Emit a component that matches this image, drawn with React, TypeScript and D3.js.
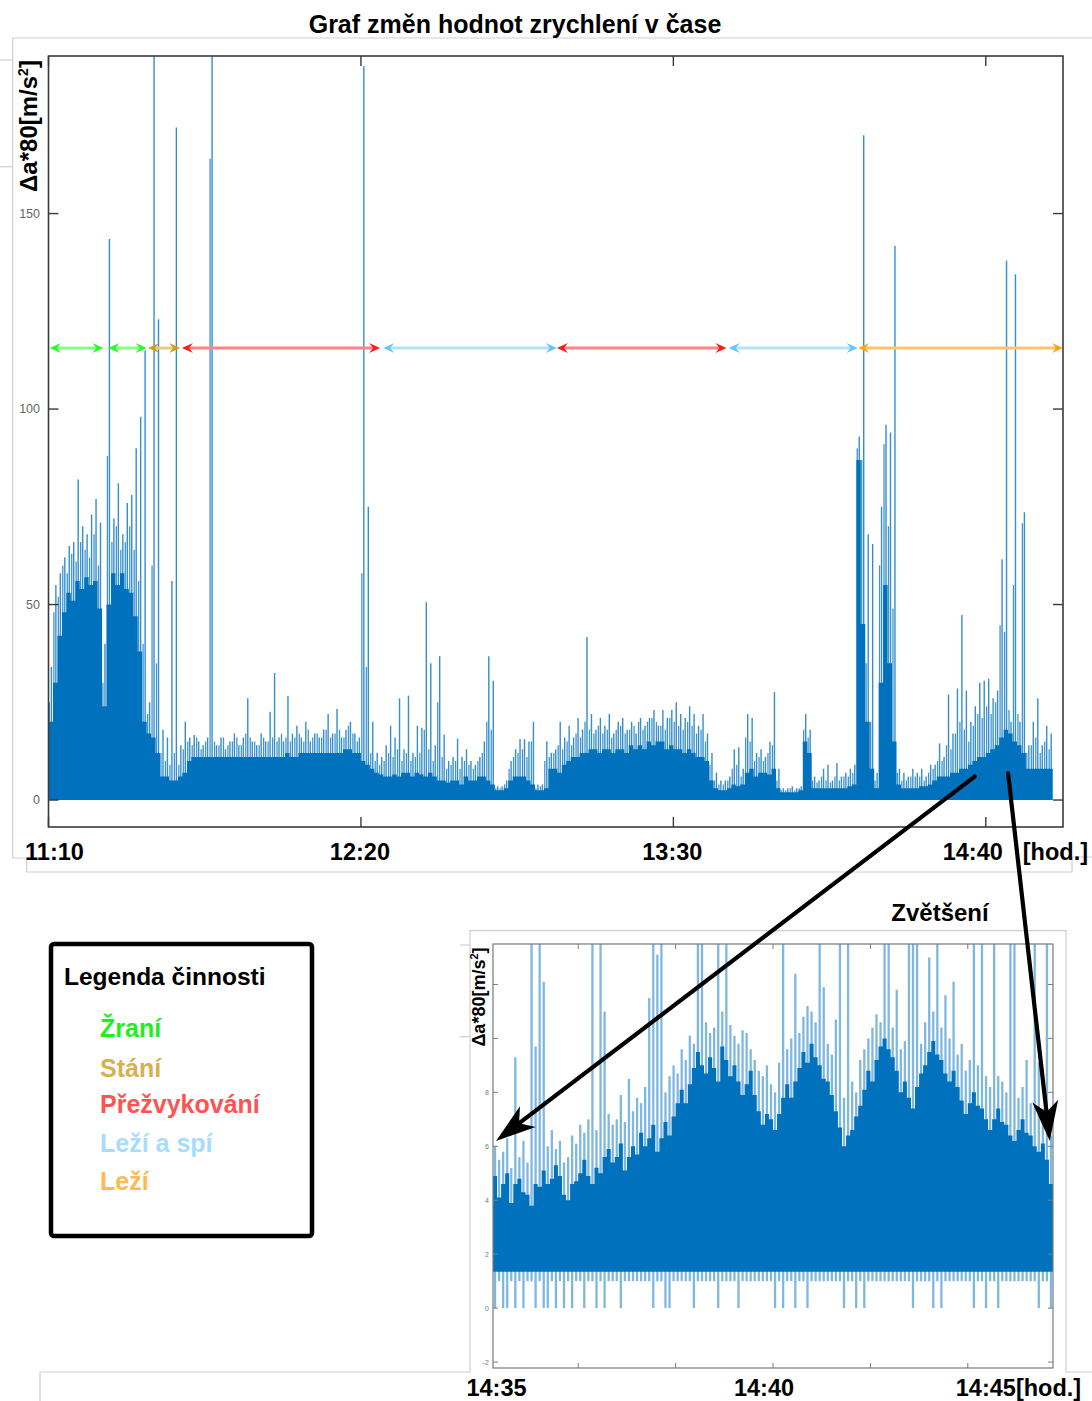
import React, { useEffect } from 'react';
import * as d3 from 'd3';

const FONT = '"Liberation Sans", Arial, Helvetica, sans-serif';

// ---------------- main chart data (1-minute bins from 11:10) ----------------
const mainXTickLabels = ['11:10', '12:20', '13:30', '14:40'];
const mainYTicks = [0, 50, 100, 150];

// level of the dense (solid) part of the signal
const mainDense = [
  20, 30, 42, 48, 53, 51, 56, 54, 57, 55,
  56, 49, 24, 50, 58, 55, 58, 54, 53, 47,
  38, 20, 17, 16, 12, 6, 6, 5, 5, 6,
  7, 10, 11, 11, 11, 11, 11, 11, 11, 11,
  11, 11, 11, 11, 11, 11, 11, 11, 11, 11,
  11, 11, 11, 12, 11, 11, 12, 12, 12, 12,
  12, 12, 12, 12, 12, 12, 13, 13, 12, 12,
  10, 9, 8, 7, 6.5, 6, 6, 6.5, 6, 7,
  7, 6, 7, 6.5, 6, 7, 6, 5, 5, 4.5,
  5, 5, 4, 6, 5, 5, 6, 6, 5, 4,
  2.5, 2.5, 3, 5, 6, 6, 6, 5, 4, 2.5,
  2.5, 3, 8, 8, 7, 9, 10, 11, 11, 12,
  12, 13, 13, 12, 13, 13, 12, 13, 13, 12,
  14, 13, 14, 13, 15, 14, 15, 15, 13, 14,
  13, 13, 12, 13, 12, 11, 11, 10, 5, 3,
  2.5, 2.5, 3, 4, 3.5, 4, 7, 8, 6, 7,
  7, 6.5, 8, 3, 2, 2, 2, 2, 2.5, 15,
  12, 3, 3, 3, 3, 3, 3, 3, 3, 3.5,
  4, 87, 45, 20, 8, 3, 30, 55, 35, 15,
  4, 3, 3, 3, 3, 3.5, 3.5, 4, 5, 6,
  6, 6, 7, 7, 8, 8, 9, 10, 11, 11,
  12, 13, 14, 16, 18, 17, 15, 14, 12, 8,
  8, 8, 8, 8, 8,
];

// largest spike in every minute
const mainPeak = [
  34, 55, 58, 62, 65, 66, 82, 70, 68, 73,
  77, 71, 40, 143.5, 72, 81, 68, 76, 78, 90,
  98, 115, 25, 195, 123, 18, 16, 56, 172, 14,
  20, 16, 16.6, 15, 14, 16, 195, 14, 16, 13,
  15, 17, 14, 16, 26, 15, 14, 17, 15, 22.6,
  32.5, 16, 15, 26.6, 17, 19, 16, 20, 15, 17,
  16, 18, 22, 17, 23.3, 16, 18, 20, 17, 16,
  187.7, 75, 20, 12, 11, 14, 19, 16, 26, 13,
  26.7, 12, 19, 18.5, 50.6, 35, 14, 36.8, 16.7, 10,
  11, 15.7, 11, 13, 10, 9, 11, 15, 36.8, 30.5,
  3.5, 3.5, 5, 10, 13, 15.6, 15.6, 15, 20, 4,
  4, 15, 12, 13, 20, 16, 19, 16, 21, 18,
  41.7, 22, 18, 21, 19, 22, 17, 20, 21, 18,
  20, 17, 21, 19, 21, 23, 19, 23, 21, 23,
  25, 22, 21, 24, 22, 19, 22, 17, 12, 7,
  5, 5, 6, 13, 13.5, 8, 22, 21, 12, 13,
  11, 15, 27.6, 8, 3, 3, 3.5, 3, 3.5, 22,
  18, 6, 5, 8, 9, 5, 9.5, 6, 7, 8,
  9, 93, 170, 68, 65.5, 7, 75, 96, 94, 141.7,
  8, 7, 6, 8, 7, 8, 6, 9, 9, 14.5,
  11, 27, 17, 28.5, 47.3, 28, 20, 24, 30, 30.5,
  31, 26, 28, 61.6, 138, 20, 134.5, 20, 73.6, 14,
  20, 26, 14, 19, 17,
];

// second-largest spike in every minute
const mainPeak2 = [
  25, 48, 52, 60, 58, 63, 61, 66, 64, 62,
  68, 60, 30, 88, 66, 70, 64, 66, 70, 64,
  56, 40, 22, 60, 35, 12, 10, 9, 12, 9,
  13, 15, 14, 16, 13, 15, 164, 15, 14, 16,
  14, 15, 16, 14, 17, 16, 15, 14, 16, 15,
  16, 15, 17, 16, 15, 16, 17, 15, 18, 16,
  17, 16, 18, 16, 17, 18, 16, 19, 17, 15,
  58, 34, 12, 10, 9, 10, 12, 11, 13, 10,
  12, 10, 11, 12, 18, 13, 10, 25, 11, 8,
  9, 10, 8, 10, 9, 8, 10, 12, 20, 18,
  3, 3, 4, 8, 11, 12, 13, 11, 15, 3,
  3.5, 10, 11, 12, 14, 13, 15, 14, 17, 16,
  20, 18, 17, 19, 17, 18, 16, 18, 19, 17,
  18, 19, 20, 18, 20, 21, 20, 19, 18, 21,
  20, 19, 18, 20, 19, 17, 18, 15, 9, 5,
  4, 4, 5, 8, 9, 6, 16, 15, 10, 11,
  10, 12, 14, 5, 2.5, 2.5, 3, 2.5, 3, 18,
  16, 5, 4.5, 6, 5, 4.5, 6, 5, 6, 6,
  7, 90, 87, 35, 20, 5, 60, 91, 70, 49,
  7, 5, 5, 6, 6, 6, 5, 7, 8, 10,
  10, 14, 13, 17, 20, 18, 15, 19, 22, 21,
  24, 22, 25, 44.7, 43, 23, 55, 22, 70.8, 12,
  14, 16, 12, 15, 13,
];

// activities: minutes after 11:10
const activityNames = ['Žraní', 'Žraní', 'Stání', 'Přežvykování', 'Leží a spí', 'Přežvykování', 'Leží a spí', 'Leží'];
const activityStartMin = [0.3, 13.4, 22.3, 29.9, 75.0, 113.9, 152.4, 181.4];
const activityEndMin = [12.3, 22.0, 29.5, 74.3, 113.9, 151.9, 181.3, 227.3];
const activityLevel = 115.6;

const legendNames = ['Žraní', 'Stání', 'Přežvykování', 'Leží a spí', 'Leží'];

// ---------------- zoom chart data ----------------
const zoomStart = '14:34:15';
// dense level, 5-second bins
const zoomDense = [
  4.9, 4.1, 4.6, 5.0, 3.9, 4.6, 4.8, 4.3, 4.2, 3.8,
  4.6, 4.5, 5.1, 4.6, 4.8, 5.3, 4.9, 4.2, 4.0, 4.6,
  4.7, 5.0, 5.5, 4.9, 4.6, 5.2, 5.0, 5.6, 5.9, 5.4,
  5.6, 6.1, 5.1, 5.6, 6.0, 5.7, 6.5, 6.0, 6.3, 6.8,
  5.8, 6.3, 6.9, 6.4, 7.1, 7.6, 8.1, 7.6, 8.3, 8.9,
  9.5, 9.0, 8.7, 9.3, 8.9, 8.4, 9.7, 9.2, 8.6, 9.0,
  8.4, 7.9, 8.3, 8.8, 7.9, 7.3, 6.8, 7.2, 7.0, 6.6,
  7.2, 7.8, 8.3, 7.8, 8.4, 8.9, 9.5, 9.1, 9.8, 9.3,
  9.0, 8.5, 8.4, 7.9, 7.3, 6.7, 6.0, 6.4, 6.6, 7.1,
  7.5, 8.1, 8.8, 8.4, 9.2, 9.7, 10.0, 9.6, 9.3, 8.8,
  8.0, 8.4, 7.8, 7.4, 8.2, 8.7, 9.0, 9.5, 9.9, 9.4,
  9.2, 8.7, 8.4, 8.8, 8.2, 7.7, 7.2, 7.6, 8.0, 7.5,
  7.4, 7.0, 6.6, 7.0, 7.4, 6.9, 6.8, 6.4, 6.2, 6.6,
  7.0, 6.5, 6.4, 6.0, 5.8, 6.1, 5.5, 4.6,
];
// spike maxima, 5-second bins
const zoomPeak = [
  6.0, 5.5, 5.8, 6.3, 5.2, 9.3, 5.6, 6.2, 5.4, 14,
  9.7, 14, 12.1, 6.0, 6.6, 5.9, 6.2, 5.4, 5.6, 6.4,
  6.1, 6.8, 6.5, 7.0, 14, 6.6, 14, 11.0, 7.2, 6.8,
  7.0, 7.9, 6.9, 8.5, 7.3, 7.8, 7.6, 8.2, 11.5, 14,
  13.1, 14, 8.0, 8.6, 9.0, 8.7, 9.6, 9.2, 10.1, 9.8,
  14, 14, 10.6, 10.2, 10.4, 14, 11.0, 14, 10.5, 10.1,
  9.8, 10.3, 10.2, 9.6, 9.2, 8.8, 8.6, 9.0, 8.3, 8.0,
  9.1, 14, 9.6, 10.0, 12.4, 10.2, 10.8, 11.2, 11.0, 10.6,
  14, 11.9, 9.8, 9.4, 10.7, 14, 7.8, 14, 8.4, 8.0,
  9.2, 9.6, 10.0, 10.4, 10.9, 10.6, 14, 14, 10.4, 11.8,
  9.6, 9.9, 14, 14, 14, 9.8, 10.6, 13, 11.0, 14,
  10.4, 11.6, 10.0, 12.1, 9.4, 9.8, 8.8, 9.2, 14, 9.0,
  14, 8.6, 8.2, 14, 8.6, 8.4, 8.0, 14, 14, 7.8,
  8.2, 9.2, 7.6, 14, 9.1, 7.4, 14, 6.4,
];
// 5-second bins in which the signal drops to 0
const zoomDipBins = [0, 2, 3, 5, 7, 10, 12, 13, 15, 17, 19, 22, 25, 27, 31, 39, 42, 43, 49, 55, 60, 69, 71, 74, 77, 86, 89, 91, 103, 108, 110, 118, 121, 124, 134, 137];
const zoomYTicks = [-2, 0, 2, 4, 6, 8, 10, 12];
const zoomYTickLabels = [-2, 0, 2, 4, 6, 8];
const zoomMinorTicks = ['14:36', '14:38', '14:40', '14:42', '14:44'];
const zoomXLabels = ['14:35', '14:40', '14:45[hod.]'];

// annotation arrows: from [min after 11:10, value] in main chart to [s after 14:34:15, value] in zoom
const arrowFromMain = [[207.5, 6.0], [215.0, 6.8]];
const arrowToZoom = [[3.7, 6.2], [686, 6.2]];

// ---------------- styles ----------------
const activityStyle: Record<string, { head: string; line: string }> = {
  'Žraní': { head: '#22ff22', line: '#85ff85' },
  'Stání': { head: '#cf9f1c', line: '#e6cb84' },
  'Přežvykování': { head: '#ff1a1a', line: '#ff8585' },
  'Leží a spí': { head: '#66c4ff', line: '#b5e1ff' },
  'Leží': { head: '#ffa31a', line: '#ffc56e' },
};
const legendColor: Record<string, string> = {
  'Žraní': '#1ef01e',
  'Stání': '#d6b24f',
  'Přežvykování': '#ff5252',
  'Leží a spí': '#a6dcff',
  'Leží': '#ffb94f',
};
const BLUE = '#0072BD';
const FRAME = '#cfcfcf';

function headPath(tx: number, ty: number, fx: number, fy: number, len: number, half: number, notch: number) {
  const dx = tx - fx, dy = ty - fy;
  const L = Math.hypot(dx, dy) || 1;
  const ux = dx / L, uy = dy / L;
  const px = -uy, py = ux;
  const bx = tx - ux * len, by = ty - uy * len;
  const nx = tx - ux * (len - notch), ny = ty - uy * (len - notch);
  return `M${tx},${ty}L${bx + px * half},${by + py * half}L${nx},${ny}L${bx - px * half},${by - py * half}Z`;
}

export default function App() {
  useEffect(() => {
    document.body.style.margin = '0';
  }, []);

  const parseHM = d3.timeParse('%H:%M');
  const parseHMS = d3.timeParse('%H:%M:%S');

  // ---- main scales ----
  const t0 = parseHM(mainXTickLabels[0]) as Date;
  const atMin = (m: number) => new Date(t0.getTime() + m * 60000);
  const MAIN_SPAN = 227.3;
  const mL = 48.5, mR = 1063, mT = 56, mB = 827;
  const x = d3.scaleTime().domain([t0, atMin(MAIN_SPAN)]).range([mL, mR]);
  const y = d3.scaleLinear().domain([-6.9, 190.3]).range([mB, mT]);
  const xTicks = mainXTickLabels.map((s) => parseHM(s) as Date);

  const densePts = mainDense.map((v, i) => ({ m: i, v })).concat([{ m: mainDense.length, v: mainDense[mainDense.length - 1] }]);
  const densePath = d3
    .area<{ m: number; v: number }>()
    .x((d) => x(atMin(d.m)))
    .y0(y(0))
    .y1((d) => y(d.v))
    .curve(d3.curveStepAfter)(densePts) as string;

  // ---- zoom scales ----
  const zs = parseHMS(zoomStart) as Date;
  const atSec = (s: number) => new Date(zs.getTime() + s * 1000);
  const zL = 493, zR = 1053, zT = 944, zB = 1368;
  const xZ = d3.scaleTime().domain([zs, atSec(690)]).range([zL, zR]);
  const yZ = d3.scaleLinear().domain([-2.22, 13.5]).range([zB, zT]);
  const dipSet = new Set(zoomDipBins);
  const zDensePts = zoomDense.map((v, k) => ({ s: k * 5, v })).concat([{ s: zoomDense.length * 5, v: zoomDense[zoomDense.length - 1] }]);
  const zDensePath = d3
    .area<{ s: number; v: number }>()
    .x((d) => xZ(atSec(d.s)))
    .y0(yZ(1.35))
    .y1((d) => yZ(d.v))
    .curve(d3.curveStepAfter)(zDensePts) as string;
  const zoomLabelTimes = zoomXLabels.map((s) => parseHM(s.slice(0, 5)) as Date);
  const zoomLabelShift = [-33, -9, 2];

  const tickStroke = '#3a3a3a';

  return (
    <svg
      width={1092}
      height={1401}
      viewBox="0 0 1092 1401"
      style={{ display: 'block', position: 'absolute', left: 0, top: 0, background: '#fff' }}
      fontFamily={FONT}
    >
      <defs>
        <clipPath id="mainClip">
          <rect x={mL} y={mT} width={mR - mL} height={mB - mT} />
        </clipPath>
        <clipPath id="zoomClip">
          <rect x={zL} y={zT} width={zR - zL} height={zB - zT} />
        </clipPath>
      </defs>
      <rect x={0} y={0} width={1092} height={1401} fill="#fff" />

      {/* light frame lines of the pasted figures */}
      <g stroke={FRAME} strokeWidth={1.2} fill="none">
        <polyline points="1092,38 12.7,38 12.7,858 26.7,858 26.7,872 1072,872 1072,857 1092,857" />
        <line x1={0} y1={60} x2={12.7} y2={60} />
        <line x1={0} y1={166.7} x2={12.7} y2={166.7} />
        <polyline points="40,1401 40,1372 470,1372 470,930.7 1066,930.7 1066,1372 1092,1372" />
        <line x1={460} y1={945} x2={470} y2={945} />
        <line x1={460} y1={1036.7} x2={470} y2={1036.7} />
      </g>

      {/* ================= MAIN CHART ================= */}
      <text x={515} y={33} textAnchor="middle" fontSize={25} fontWeight="bold" fill="#000">
        Graf změn hodnot zrychlení v čase
      </text>

      <g clipPath="url(#mainClip)">
        <path d={densePath} fill={BLUE} />
        {mainPeak2.map((v, i) => (
          <line
            key={'b' + i}
            x1={x(atMin(i + 0.2))}
            x2={x(atMin(i + 0.2))}
            y1={y(0)}
            y2={y(v)}
            stroke={BLUE}
            strokeOpacity={0.75}
            strokeWidth={1.3}
          />
        ))}
        {mainPeak.map((v, i) => (
          <line
            key={'a' + i}
            x1={x(atMin(i + 0.65))}
            x2={x(atMin(i + 0.65))}
            y1={y(0)}
            y2={y(v)}
            stroke={BLUE}
            strokeOpacity={0.8}
            strokeWidth={1.4}
          />
        ))}
      </g>

      {/* axes box */}
      <rect x={mL} y={mT} width={mR - mL} height={mB - mT} fill="none" stroke={tickStroke} strokeWidth={1.6} />
      {mainYTicks.map((t) => (
        <g key={t}>
          <line x1={mL} x2={mL + 10} y1={y(t)} y2={y(t)} stroke={tickStroke} strokeWidth={1.4} />
          <line x1={mR} x2={mR - 10} y1={y(t)} y2={y(t)} stroke={tickStroke} strokeWidth={1.4} />
          <text x={40} y={y(t)} dy="0.35em" textAnchor="end" fontSize={12.5} fill="#666">
            {t}
          </text>
        </g>
      ))}
      {xTicks.map((t, i) => (
        <g key={i}>
          <line x1={x(t)} x2={x(t)} y1={mB} y2={mB - 10} stroke={tickStroke} strokeWidth={1.4} />
          <line x1={x(t)} x2={x(t)} y1={mT} y2={mT + 10} stroke={tickStroke} strokeWidth={1.4} />
          <text
            x={x(t) + (i === 0 ? 6 : i === xTicks.length - 1 ? -13 : -1)}
            y={860}
            textAnchor="middle"
            fontSize={23.5}
            fontWeight="bold"
            fill="#000"
          >
            {mainXTickLabels[i]}
          </text>
        </g>
      ))}
      <text x={x(xTicks[xTicks.length - 1]) + 37} y={860} fontSize={23.5} fontWeight="bold" fill="#000">
        [hod.]
      </text>
      <text transform="translate(37,126) rotate(-90)" textAnchor="middle" fontSize={24} fontWeight="bold" fill="#000">
        Δa*80[m/s<tspan fontSize={14} dy={-9}>2</tspan>
        <tspan dy={9}>]</tspan>
      </text>

      {/* activity arrows */}
      {activityNames.map((name, i) => {
        const st = activityStyle[name];
        const x1 = x(atMin(activityStartMin[i]));
        const x2 = x(atMin(activityEndMin[i]));
        const yy = y(activityLevel);
        return (
          <g key={i}>
            <line x1={x1 + 6} x2={x2 - 6} y1={yy} y2={yy} stroke={st.line} strokeWidth={3} />
            <path d={headPath(x1, yy, x1 + 20, yy, 11, 5, 4)} fill={st.head} />
            <path d={headPath(x2, yy, x2 - 20, yy, 11, 5, 4)} fill={st.head} />
          </g>
        );
      })}

      {/* ================= ZOOM CHART ================= */}
      <text x={940} y={921} textAnchor="middle" fontSize={24} fontWeight="bold" fill="#000">
        Zvětšení
      </text>
      <g clipPath="url(#zoomClip)">
        {zoomPeak.map((v, k) => {
          const xx = xZ(atSec(k * 5 + 2.5));
          return (
            <line
              key={k}
              x1={xx}
              x2={xx}
              y1={yZ(dipSet.has(k) ? 0 : 1)}
              y2={yZ(v)}
              stroke={BLUE}
              strokeOpacity={0.5}
              strokeWidth={2.3}
            />
          );
        })}
        <path d={zDensePath} fill={BLUE} />
      </g>
      <rect x={zL} y={zT} width={zR - zL} height={zB - zT} fill="none" stroke="#7a7a7a" strokeWidth={1.2} />
      {zoomYTicks.map((t) => (
        <g key={t}>
          <line x1={zL} x2={zL + 5} y1={yZ(t)} y2={yZ(t)} stroke="#7a7a7a" strokeWidth={1} />
          <line x1={zR} x2={zR - 5} y1={yZ(t)} y2={yZ(t)} stroke="#7a7a7a" strokeWidth={1} />
        </g>
      ))}
      {zoomYTickLabels.map((t) => (
        <text key={t} x={489} y={yZ(t)} dy="0.35em" textAnchor="end" fontSize={7} fill="#777">
          {t}
        </text>
      ))}
      {zoomMinorTicks.map((s) => {
        const xx = xZ(parseHM(s) as Date);
        return (
          <g key={s}>
            <line x1={xx} x2={xx} y1={zB} y2={zB - 5} stroke="#7a7a7a" strokeWidth={1} />
            <line x1={xx} x2={xx} y1={zT} y2={zT + 5} stroke="#7a7a7a" strokeWidth={1} />
          </g>
        );
      })}
      {zoomXLabels.map((s, i) => (
        <text
          key={s}
          x={xZ(zoomLabelTimes[i]) + zoomLabelShift[i]}
          y={1396}
          textAnchor="middle"
          fontSize={23.5}
          fontWeight="bold"
          fill="#000"
        >
          {s}
        </text>
      ))}
      <text transform="translate(485,997) rotate(-90)" textAnchor="middle" fontSize={18} fontWeight="bold" fill="#000">
        Δa*80[m/s<tspan fontSize={11} dy={-7}>2</tspan>
        <tspan dy={7}>]</tspan>
      </text>

      {/* ================= ANNOTATION ARROWS ================= */}
      {arrowFromMain.map((from, i) => {
        const fx = x(atMin(from[0]));
        const fy = y(from[1]);
        const tx = xZ(atSec(arrowToZoom[i][0]));
        const ty = yZ(arrowToZoom[i][1]);
        const L = Math.hypot(tx - fx, ty - fy);
        const ex = tx - ((tx - fx) / L) * 28;
        const ey = ty - ((ty - fy) / L) * 28;
        return (
          <g key={i}>
            <line x1={fx} y1={fy} x2={ex} y2={ey} stroke="#000" strokeWidth={4.2} strokeLinecap="round" />
            <path d={headPath(tx, ty, fx, fy, 40, 13, 11)} fill="#000" />
          </g>
        );
      })}

      {/* ================= LEGEND ================= */}
      <rect x={51} y={944} width={261} height={292} rx={3} fill="#fff" stroke="#000" strokeWidth={4.5} />
      <text x={64} y={985} fontSize={24.5} fontWeight="bold" fill="#000">
        Legenda činnosti
      </text>
      {legendNames.map((n, i) => (
        <text key={n} x={100} y={[1037, 1077, 1113, 1152, 1190][i]} fontSize={25} fontWeight="bold" fill={legendColor[n]}>
          {n}
        </text>
      ))}
    </svg>
  );
}
